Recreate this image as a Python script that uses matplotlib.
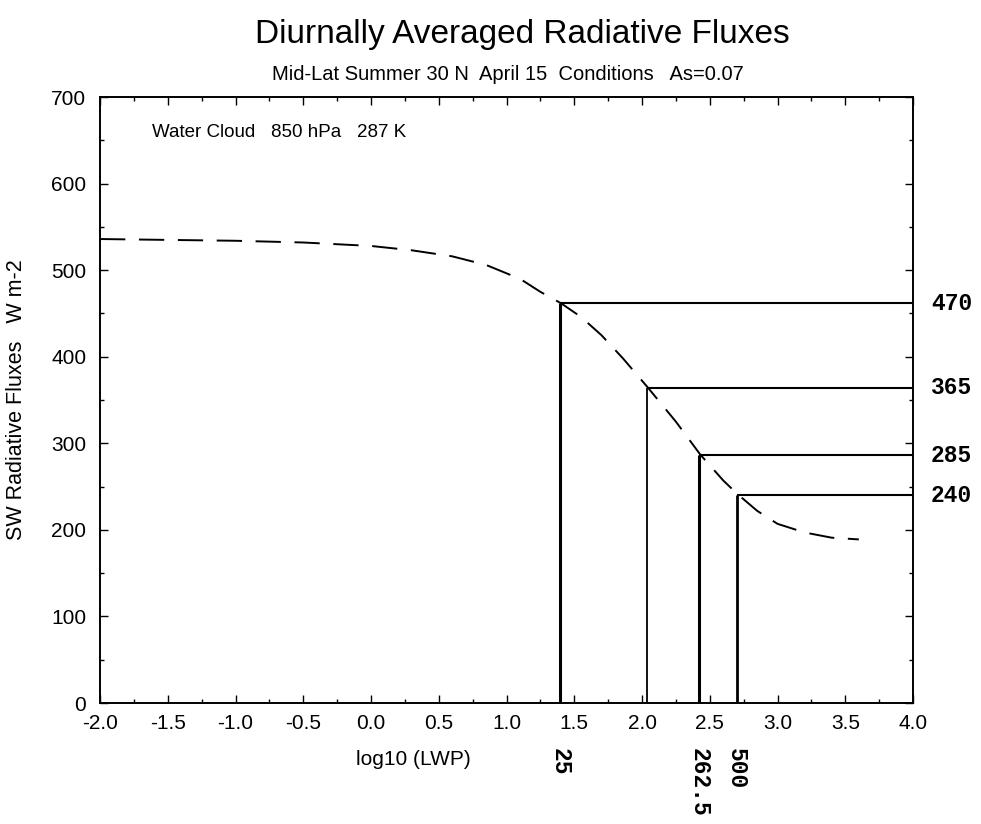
import numpy as np
import matplotlib

matplotlib.use("Agg")
import matplotlib.pyplot as plt
from matplotlib.ticker import MultipleLocator

# dashed flux curve
curve_x = [-2.0, -1.5, -1.0, -0.5, 0.0, 0.3, 0.6, 0.85, 1.1, 1.25, 1.4, 1.55, 1.7, 1.86,
           2.04, 2.25, 2.43, 2.6, 2.7, 2.85, 3.0, 3.2, 3.4, 3.6]
curve_y = [536, 535, 534, 532, 528, 523, 516, 506, 490, 475, 462, 446, 425, 398,
           365, 325, 287, 257, 242, 222, 207, 197, 191, 189]

# marked LWP values and the fluxes where they meet the curve
lwp_marks = [25, 108, 262.5, 500]
lwp_labels = ["25", "", "262.5", "500"]
flux_marks = [462, 364, 286, 240]
flux_labels = ["470", "365", "285", "240"]
vline_widths = [2.2, 1.3, 2.2, 2.0]

xticks = [-2.0, -1.5, -1.0, -0.5, 0.0, 0.5, 1.0, 1.5, 2.0, 2.5, 3.0, 3.5, 4.0]
yticks = [0, 100, 200, 300, 400, 500, 600, 700]

plt.rcParams["font.family"] = ["Liberation Sans", "DejaVu Sans"]

fig = plt.figure(figsize=(9.81, 8.24), dpi=100)
ax = fig.add_axes([0.102, 0.1468, 0.8287, 0.7354])

ax.plot(curve_x, curve_y, color="black", lw=1.4, dashes=(13, 7))

log_marks = np.log10(lwp_marks)
for lx, fy, lw in zip(log_marks, flux_marks, vline_widths):
    ax.plot([lx, lx], [0, fy], color="black", lw=lw, solid_capstyle="butt")
    ax.plot([lx, 4.0], [fy, fy], color="black", lw=1.5, solid_capstyle="butt")

for fy, lab in zip(flux_marks, flux_labels):
    ax.text(1.022, fy, lab, transform=ax.get_yaxis_transform(), ha="left", va="center",
            fontsize=16.5, family="Liberation Mono", fontweight="bold")

for lx, lab in zip(log_marks, lwp_labels):
    if lab:
        ax.text(lx, -0.075, lab, transform=ax.get_xaxis_transform(), ha="center", va="top",
                rotation=-90, fontsize=16.5, family="Liberation Mono", fontweight="bold")

ax.text(-1.62, 659, "Water Cloud   850 hPa   287 K", fontsize=13.5, va="center", ha="left")

ax.set_xlim(-2.0, 4.0)
ax.set_ylim(0, 700)
ax.set_xticks(xticks)
ax.set_xticklabels([f"{t:.1f}" for t in xticks])
ax.set_yticks(yticks)
ax.xaxis.set_minor_locator(MultipleLocator(0.25))
ax.yaxis.set_minor_locator(MultipleLocator(50))
ax.tick_params(which="both", direction="in", top=True, right=True, labelsize=15)
ax.tick_params(axis="x", which="major", pad=8)
ax.tick_params(axis="y", which="major", pad=10)
ax.tick_params(which="major", length=6, width=1.0)
ax.tick_params(which="minor", length=3, width=1.0)
for lab in ax.get_yticklabels():
    lab.set_va("center_baseline")
for sp in ax.spines.values():
    sp.set_linewidth(1.4)

ax.set_xlabel("log10 (LWP)", fontsize=15)
ax.xaxis.set_label_coords(0.385, -0.078)
ax.set_ylabel("SW Radiative Fluxes   W m-2", fontsize=15.5)
ax.yaxis.set_label_coords(-0.09, 0.5)

fig.text(0.532, 0.958, "Diurnally Averaged Radiative Fluxes", ha="center", va="center", fontsize=24)
fig.text(0.518, 0.909, "Mid-Lat Summer 30 N  April 15  Conditions   As=0.07", ha="center",
         va="center", fontsize=14.5)

fig.savefig("out.png", dpi=100)
